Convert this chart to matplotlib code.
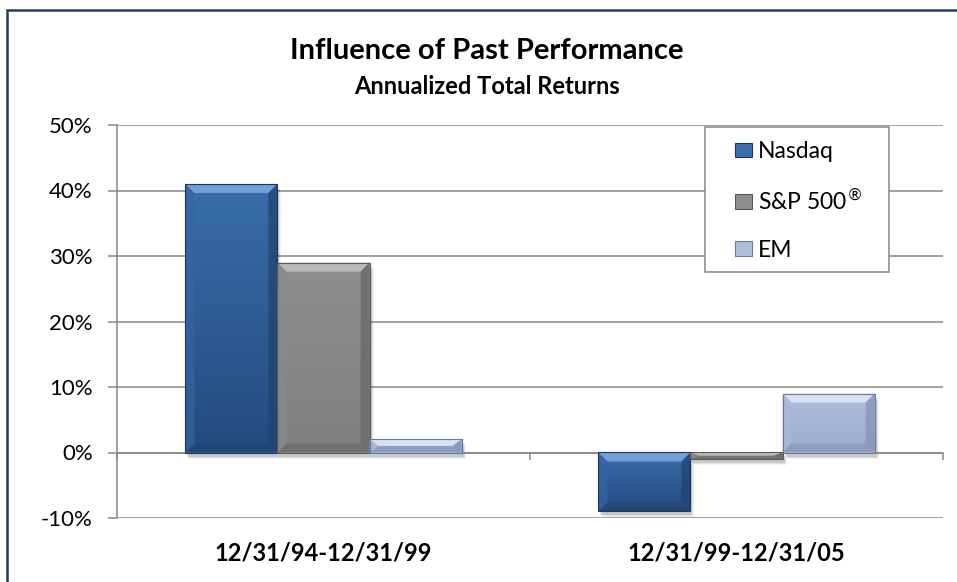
import numpy as np
import matplotlib
matplotlib.use("Agg")
import matplotlib.pyplot as plt
from matplotlib.patches import Rectangle, Polygon
from matplotlib.colors import LinearSegmentedColormap

plt.rcParams['font.family'] = ['Lato', 'DejaVu Sans']

# Dữ liệu
periods = ['12/31/94-12/31/99', '12/31/99-12/31/05']
series = ['Nasdaq', 'S&P 500$^{®}$', 'EM']
nasdaq = [41, -9]
sp500 = [29, -1]
em = [2, 9]
y_ticks = [-10, 0, 10, 20, 30, 40, 50]

# màu: mặt trên, mặt dưới, vát sáng, vát bên, vát tối, viền
colors = [
    dict(top='#3A6DAB', bot='#244B7E', light='#79A5DE', side='#3366A3', dark='#21446F', edge='#1B3658'),
    dict(top='#8E8E8E', bot='#808080', light='#C0C0C0', side='#8A8A8A', dark='#686868', edge='#595959'),
    dict(top='#AEBEDD', bot='#9AABCD', light='#DCE6F6', side='#A9B9D9', dark='#8494B5', edge='#6A7898'),
]
grid_col = '#878787'

W, H = 957, 582
fig = plt.figure(figsize=(W / 100, H / 100), dpi=100)
ax = fig.add_axes([117 / W, 1 - 518 / H, (943 - 117) / W, (518 - 125) / H])

x = np.arange(len(periods))
bw = 0.223
offsets = [-bw, 0, bw]
values = [nasdaq, sp500, em]

ax.set_xlim(-0.5, len(periods) - 0.5)
ax.set_ylim(y_ticks[0], y_ticks[-1])

# chuyển pixel sang đơn vị dữ liệu
px_x = (ax.get_xlim()[1] - ax.get_xlim()[0]) / (943 - 117)
px_y = (ax.get_ylim()[1] - ax.get_ylim()[0]) / (518 - 125)

handles = []
for vals, off, c, name in zip(values, offsets, colors, series):
    bars = ax.bar(x + off, vals, bw, color=c['top'], edgecolor='none', zorder=3)
    for p in bars.patches:
        x0, w = p.get_x(), p.get_width()
        x1 = x0 + w
        yb = min(p.get_y(), p.get_y() + p.get_height())
        yt = max(p.get_y(), p.get_y() + p.get_height())
        # bóng đổ
        for k, a in enumerate([0.10, 0.07, 0.05]):
            g = k + 1
            ax.add_patch(Rectangle((x0 + (1 + g) * px_x, yb - (3 + g) * px_y),
                                   w, yt - yb, facecolor='black', alpha=a,
                                   edgecolor='none', zorder=2))
        # mặt chính với gradient
        cmap = LinearSegmentedColormap.from_list('g', [c['top'], c['bot']])
        im = ax.imshow(np.linspace(0, 1, 64).reshape(-1, 1), cmap=cmap,
                       extent=(x0, x1, yb, yt), aspect='auto', zorder=3,
                       interpolation='bilinear', origin='upper')
        im.set_clip_path(p)
        ex = min(9 * px_x, w / 2)
        ey = min(9 * px_y, (yt - yb) / 2)
        polys = [
            ([(x0, yt), (x1, yt), (x1 - ex, yt - ey), (x0 + ex, yt - ey)], c['light'], 0.9),
            ([(x0, yb), (x1, yb), (x1 - ex, yb + ey), (x0 + ex, yb + ey)], c['dark'], 0.6),
            ([(x0, yb), (x0, yt), (x0 + ex, yt - ey), (x0 + ex, yb + ey)], c['side'], 0.7),
            ([(x1, yb), (x1, yt), (x1 - ex, yt - ey), (x1 - ex, yb + ey)], c['dark'], 0.75),
        ]
        for pts, col, a in polys:
            ax.add_patch(Polygon(pts, closed=True, facecolor=col, edgecolor='none',
                                 alpha=a, zorder=4))
        ax.add_patch(Rectangle((x0, yb), w, yt - yb, facecolor='none',
                               edgecolor=c['edge'], lw=0.8, zorder=5))
    handles.append(Rectangle((0, 0), 1, 1, facecolor=c['top'], edgecolor=c['edge'], lw=0.8))

ax.set_xlim(-0.5, len(periods) - 0.5)
ax.set_ylim(y_ticks[0], y_ticks[-1])

# trục
ax.set_yticks(y_ticks)
ax.set_yticklabels([f'{t}%' for t in y_ticks])
ax.yaxis.grid(True, color=grid_col, lw=1.1)
ax.set_axisbelow(True)
ax.tick_params(axis='y', direction='out', length=6.5, width=1.1, color=grid_col,
               labelsize=16, pad=11, labelcolor='black')
ax.set_xticks(np.arange(len(periods) + 1) - 0.5)
ax.set_xticklabels([])
ax.tick_params(axis='x', direction='out', length=5, width=1.1, color=grid_col)
for s in ['top', 'right']:
    ax.spines[s].set_visible(False)
ax.spines['left'].set_color(grid_col)
ax.spines['left'].set_linewidth(1.1)
ax.spines['bottom'].set_position(('data', 0))
ax.spines['bottom'].set_color(grid_col)
ax.spines['bottom'].set_linewidth(1.1)
ax.spines['bottom'].set_zorder(2.5)

for xi, lab in zip(x, periods):
    ax.annotate(lab, xy=(xi, y_ticks[0]), xycoords='data', xytext=(0, -35),
                textcoords='offset pixels', ha='center', va='center',
                fontsize=17, fontweight='bold', annotation_clip=False)

# tiêu đề
fig.text(487 / W, 1 - 51 / H, 'Influence of Past Performance', ha='center', va='center',
         fontsize=21, fontweight='bold')
fig.text(487 / W, 1 - 86 / H, 'Annualized Total Returns', ha='center', va='center',
         fontsize=17, fontweight='bold')

# chú thích
fig.patches.append(Rectangle((705 / W, 1 - 272 / H), (889 - 705) / W, (272 - 127) / H,
                             transform=fig.transFigure, facecolor='white',
                             edgecolor=grid_col, lw=1.1, zorder=4))
fig.legend(handles, series, loc='upper left', bbox_to_anchor=(735 / W, 1 - 141 / H),
           frameon=False, fontsize=16.5, borderpad=0, borderaxespad=0,
           handlelength=0.72, handleheight=0.62, handletextpad=0.3,
           labelspacing=1.15).set_zorder(5)

# khung ngoài
fig.patches.append(Rectangle((7 / W, -0.1), 1.2, (H - 10) / H + 0.1,
                             transform=fig.transFigure, facecolor='none',
                             edgecolor='#243F60', lw=1.8, zorder=6))

fig.savefig('out.png', dpi=100)
